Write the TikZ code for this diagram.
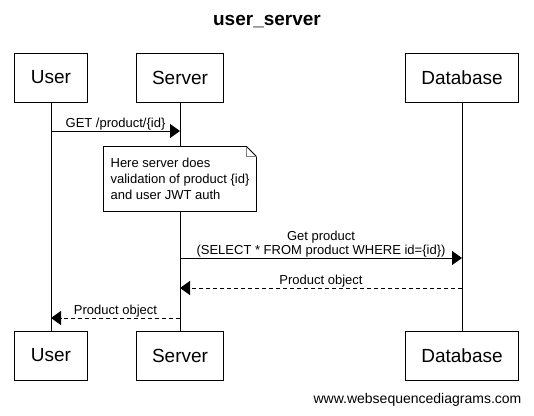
\documentclass[tikz,border=0pt]{standalone}
\usepackage{fontspec}
\setmainfont{Liberation Sans}
\usetikzlibrary{arrows.meta,calc}

\begin{document}
\begin{tikzpicture}[x=1pt,y=-1pt,>={Triangle[length=10pt,width=14pt]},line width=1pt,
    actor/.style={draw,fill=white,inner xsep=16pt,inner ysep=0pt,minimum height=49pt,font=\fontsize{19}{22}\selectfont},
    msg/.style={above,inner sep=0.5pt,font=\fontsize{13}{14}\selectfont},
    reply/.style={->,dash pattern=on 4pt off 3pt}]
                \useasboundingbox (0,0) rectangle (534,415);
                \node[font=\bfseries\fontsize{19}{22}\selectfont](title)at(267, 22){user\_server};
                % participants
                \node[actor](User)at(51, 77.5){User};
                \node[actor](Server)at(180, 77.5){Server};
                \node[actor](Database)at(462, 77.5){Database};
                \node[actor](User2)at(51, 355.5){User};
                \node[actor](Server2)at(180, 355.5){Server};
                \node[actor](Database2)at(462, 355.5){Database};
                \path[](User) edge (User2)
                (Server) edge (Server2)
                (Database) edge (Database2);
                % message ends
                \coordinate(u1)at(51, 131);
                \coordinate(s1)at(180, 131);
                \coordinate(s2)at(180, 258);
                \coordinate(d2)at(462, 258);
                \coordinate(d3)at(462, 288);
                \coordinate(s3)at(180, 288);
                \coordinate(s4)at(180, 318);
                \coordinate(u4)at(51, 318);
                \path[->](u1) edge node[msg]{GET /product/\{id\}} (s1)
                (s2) edge node[msg,align=center]{Get product\\(SELECT * FROM product WHERE id=\{id\})} (d2);
                \path[](d3) edge[reply] node[msg]{Product object} (s3)
                (s4) edge[reply] node[msg]{Product object} (u4);
                % note
                \node[fill=white,minimum width=152pt,minimum height=64pt,align=left,font=\fontsize{13}{16}\selectfont](note)at(180, 179){Here server does\\validation of product \{id\}\\and user JWT auth};
                \draw[line width=0.8pt](note.north west) -- ($(note.north east)+(-10,0)$) -- ($(note.north east)+(0,10)$) -- (note.south east) -- (note.south west) -- cycle;
                \draw[line width=0.8pt,gray]($(note.north east)+(-10,0)$) |- ($(note.north east)+(0,10)$);
                \node[font=\fontsize{14}{16}\selectfont](site)at(417.5, 400){www.websequencediagrams.com};
            \end{tikzpicture}
\end{document}
